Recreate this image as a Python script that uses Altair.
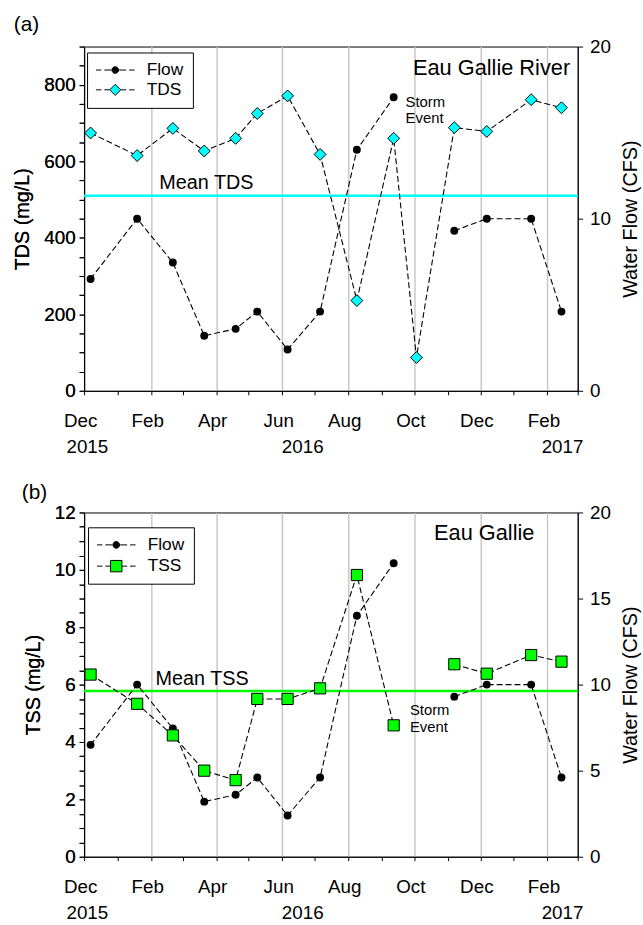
import altair as alt
import pandas as pd

FONT = "Liberation Sans"
CYAN = "#00FFFF"
GREEN = "#00FF00"

# ---------------- data ----------------
sample_dates = ["2015-12-07", "2016-01-19", "2016-02-21", "2016-03-21", "2016-04-19",
                "2016-05-09", "2016-06-06", "2016-07-06", "2016-08-09", "2016-09-12",
                "2016-11-07", "2016-12-07", "2017-01-17", "2017-02-14"]
flow_cfs = [6.5, 10.0, 7.45, 3.2, 3.6, 4.6, 2.4, 4.6, 14.0, 17.05, 9.3, 10.0, 10.0, 4.6]
flow_part = [1, 1, 1, 1, 1, 1, 1, 1, 1, 1, 2, 2, 2, 2]

tds_dates = ["2015-12-07", "2016-01-19", "2016-02-21", "2016-03-21", "2016-04-19",
             "2016-05-09", "2016-06-06", "2016-07-06", "2016-08-09", "2016-09-12",
             "2016-10-03", "2016-11-07", "2016-12-07", "2017-01-17", "2017-02-14"]
tds_mgl = [674, 615, 686, 627, 660, 725, 771, 618, 236, 660, 87, 688, 678, 761, 740]

tss_mgl = [6.35, 5.33, 4.23, 3.0, 2.67, 5.5, 5.5, 5.87, 9.82, 4.58, 6.71, 6.38, 7.03, 6.8]
tss_part = [1, 1, 1, 1, 1, 1, 1, 1, 1, 1, 2, 2, 2, 2]

mean_tds = [510]
mean_tss = [5.78]

month_ticks = [(2015, 12), (2016, 1), (2016, 2), (2016, 3), (2016, 4), (2016, 5), (2016, 6),
               (2016, 7), (2016, 8), (2016, 9), (2016, 10), (2016, 11), (2016, 12),
               (2017, 1), (2017, 2), (2017, 3)]
year_labels = ["2015", "2016", "2017"]
year_label_dates = ["2015-12-04", "2016-06-20", "2017-02-15"]

series_names_a = ["Flow", "TDS"]
series_names_b = ["Flow", "TSS"]

# annotations (date, value, text)
top_mean_label = (["2016-03-23"], [542], ["Mean TDS"])
top_site_label = (["2017-02-22"], [844], ["Eau Gallie River"])
top_storm_label = (["2016-09-23", "2016-09-23"], [755, 713], ["Storm", "Event"])
bot_mean_label = (["2016-03-19"], [6.21], ["Mean TSS"])
bot_site_label = (["2017-01-20"], [11.28], ["Eau Gallie"])
bot_storm_label = (["2016-09-27", "2016-09-27"], [5.11, 4.51], ["Storm", "Event"])


def ts(d):
    return d + "T00:00:00"


W, H = 499, 348

flow_df = pd.DataFrame({"date": [ts(d) for d in sample_dates], "val": flow_cfs, "part": flow_part})
tds_df = pd.DataFrame({"date": [ts(d) for d in tds_dates], "val": tds_mgl})
tss_df = pd.DataFrame({"date": [ts(d) for d in sample_dates], "val": tss_mgl, "part": tss_part})
year_df = pd.DataFrame({"date": [ts(d) for d in year_label_dates], "label": year_labels})


def ann_df(a):
    return pd.DataFrame({"date": [ts(d) for d in a[0]], "val": a[1], "label": a[2]})


# ---------------- scales / axes ----------------
x_scale = alt.Scale(domain=[alt.DateTime(year=2015, month=12, date=1),
                            alt.DateTime(year=2017, month=3, date=1)])
x_axis = alt.Axis(
    values=[alt.DateTime(year=y, month=m, date=1) for (y, m) in month_ticks],
    labelExpr="month(datum.value) % 2 == 1 ? timeFormat(datum.value, '%b') : ''",
    tickSize=4, labelPadding=17, labelOffset=-4, labelFontSize=19,
    labelFlush=False, labelOverlap=False,
    grid=True, gridColor="#c8c8c8", gridWidth=1.5,
    gridOpacity={"condition": {"test": "month(datum.value) % 2 == 1", "value": 1}, "value": 0},
    title=None,
)


def X():
    return alt.X("date:T", scale=x_scale, axis=x_axis)


def left_axis(values, every, title):
    return alt.Axis(values=values,
                    labelExpr=f"datum.value % {every} == 0 ? format(datum.value, 'd') : ''",
                    title=title, tickSize=5, labelPadding=4, titlePadding=11, grid=False,
                    labelFontSize=19, titleFontSize=20)


def right_axis(values):
    return alt.Axis(orient="right", values=values, title="Water Flow (CFS)", titleAngle=270,
                    titleBaseline="top", tickSize=5, labelPadding=7, titlePadding=10, grid=False,
                    labelFontSize=19, titleFontSize=20)


def dash(a, b):
    return f"M {a} 0 L {b} 0 "


DASHES_CIRCLE = dash(-2.44, -1.75) + dash(-1.375, -0.5) + dash(0.5, 1.375) + dash(1.75, 2.44)
DASHES_BOX = dash(-2.44, -1.75) + dash(-1.375, -0.72) + dash(0.72, 1.375) + dash(1.75, 2.44)
SYM_FLOW = DASHES_CIRCLE + "M -0.42 0 A 0.42 0.42 0 1 1 0.42 0 A 0.42 0.42 0 1 1 -0.42 0 Z"
SYM_TDS = DASHES_BOX + "M 0 -0.7 L 0.7 0 L 0 0.7 L -0.7 0 Z"
SYM_TSS = DASHES_BOX + "M -0.72 -0.72 L 0.72 -0.72 L 0.72 0.72 L -0.72 0.72 Z"


def legend_layer(names, paths, fills, lx, ly, row_pad):
    leg = alt.Legend(title=None, orient="none", legendX=lx, legendY=ly, symbolSize=256,
                     symbolStrokeWidth=1, symbolOffset=10.75,
                     labelOffset=23, labelFontSize=17.5, labelFont=FONT, labelColor="black",
                     padding=9, strokeColor="black", fillColor="white", rowPadding=row_pad)
    df = pd.DataFrame({"series": names})
    return alt.Chart(df).mark_point(filled=True, strokeWidth=1, size=256, opacity=1).encode(
        shape=alt.Shape("series:N", scale=alt.Scale(domain=names, range=paths), legend=leg),
        fill=alt.Fill("series:N", scale=alt.Scale(domain=names, range=fills), legend=leg),
        stroke=alt.Stroke("series:N", scale=alt.Scale(domain=names, range=["black", "black"]),
                          legend=leg),
    ).transform_filter("false")


def text_layer(a, yenc, size, align="center"):
    return alt.Chart(ann_df(a)).mark_text(align=align, baseline="middle", fontSize=size,
                                          font=FONT, color="black").encode(
        x=X(), y=yenc("val:Q"), text="label:N")


def panel(conc_df, mean_val, yleft_scale, yleft_axis, yright_axis, marker, marker_color,
          marker_size, names, paths, fills, lx, ly, row_pad, mean_lab, site_lab, storm_lab,
          title, title_dx, title_offset, has_part):
    def YL(field):
        return alt.Y(field, scale=yleft_scale, axis=yleft_axis)

    def YR(field):
        return alt.Y(field, scale=alt.Scale(domain=[0, 20], nice=False), axis=yright_axis)

    rule = alt.Chart(pd.DataFrame({"val": mean_val})).mark_rule(
        color=marker_color, strokeWidth=2.5).encode(y=YL("val:Q"))
    enc = dict(x=X(), y=YL("val:Q"))
    if has_part:
        enc["detail"] = "part:N"
    conc_line = alt.Chart(conc_df).mark_line(color="black", strokeWidth=1.1,
                                             strokeDash=[6, 3]).encode(**enc)
    conc_pts = alt.Chart(conc_df).mark_point(shape=marker, filled=True, fill=marker_color,
                                             stroke="black", strokeWidth=1, size=marker_size,
                                             opacity=1).encode(x=X(), y=YL("val:Q"))
    years = alt.Chart(year_df).mark_text(fontSize=19, font=FONT, color="black",
                                         baseline="middle").encode(
        x=X(), y=alt.value(H + 57), text="label:N")
    left = alt.layer(
        rule, conc_line,
        text_layer(mean_lab, YL, 20),
        text_layer(site_lab, YL, 22, "right"),
        text_layer(storm_lab, YL, 15, "left"),
        years,
        legend_layer(names, paths, fills, lx, ly, row_pad),
    )
    flow_line = alt.Chart(flow_df).mark_line(color="black", strokeWidth=1.1,
                                             strokeDash=[6, 3]).encode(
        x=X(), y=YR("val:Q"), detail="part:N")
    flow_pts = alt.Chart(flow_df).mark_point(shape="circle", filled=True, fill="black",
                                             stroke="black", size=36, opacity=1).encode(
        x=X(), y=YR("val:Q"))
    right = alt.layer(flow_line, flow_pts)
    return alt.layer(left, right, conc_pts).resolve_scale(y="independent").properties(
        width=W, height=H,
        title=alt.TitleParams(title, anchor="start", frame="group", dx=title_dx, fontSize=21,
                              font=FONT, fontWeight="normal", color="black",
                              offset=title_offset))


top = panel(tds_df, mean_tds,
            alt.Scale(domain=[0, 900], nice=False),
            left_axis(list(range(0, 901, 50)), 200, "TDS (mg/L)"),
            right_axis([0, 10, 20]),
            "diamond", CYAN, 144, series_names_a, [SYM_FLOW, SYM_TDS], ["black", CYAN],
            3, 6, 1, top_mean_label, top_site_label, top_storm_label, "(a)", -71, 3, False)

bottom = panel(tss_df, mean_tss,
               alt.Scale(domain=[0, 12], nice=False),
               left_axis([v / 2 for v in range(0, 25)], 2, "TSS (mg/L)"),
               right_axis([0, 5, 10, 15, 20]),
               "square", GREEN, 128, series_names_b, [SYM_FLOW, SYM_TSS], ["black", GREEN],
               4, 15, 2.5, bot_mean_label, bot_site_label, bot_storm_label, "(b)", -63, 1, True)

chart = alt.vconcat(top, bottom, spacing=23).resolve_scale(
    shape="independent", fill="independent", stroke="independent"
).resolve_legend(
    shape="independent", fill="independent", stroke="independent"
).properties(
    padding={"left": 12, "top": 8, "right": 2, "bottom": 0},
    background="white",
).configure(font=FONT).configure_view(stroke="black", strokeWidth=1).configure_axis(
    labelFont=FONT, titleFont=FONT, labelColor="black", titleColor="black",
    domainColor="black", tickColor="black", domainWidth=1, tickWidth=1,
    titleFontWeight="normal",
)

chart.save("out.html", embed_options={"renderer": "svg", "actions": False})
